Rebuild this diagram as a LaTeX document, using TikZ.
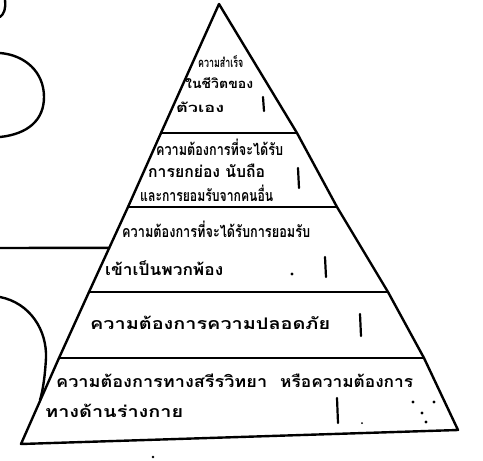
\documentclass[tikz,border=0pt]{standalone}
\usepackage{fontspec}
\usepackage{graphicx}
\usetikzlibrary{calc}
\newfontfamily\thaifont[Script=Thai]{Loma}
% squeeze a handwritten line to the width it takes in the sketch
\newcommand{\hand}[2]{\resizebox{#1pt}{\height}{#2}}

\begin{document}
\begin{tikzpicture}[x=1pt, y=-1pt,
    edge/.style={line width=2.4pt, line cap=round, line join=round},
    tick/.style={line width=2.2pt, line cap=round},
    lvl/.style={anchor=base west, inner sep=0pt,
        font=\thaifont\bfseries\fontsize{16}{16}\selectfont},
    lvltop/.style={lvl, font=\thaifont\bfseries\fontsize{13}{13}\selectfont}]
    \useasboundingbox (0,0) rectangle (483,461);
    \fill[white] (0,0) rectangle (483,461);

    % Pyramid corners and level ends
    \coordinate (apex) at (219,4);
    \coordinate (l1) at (161,133);
    \coordinate (l2) at (128,207);
    \coordinate (l3) at (89,292);
    \coordinate (l4) at (59,358);
    \coordinate (bl) at (21,444);
    \coordinate (r1) at (297,133);
    \coordinate (r2) at (337,207);
    \coordinate (r3) at (388,292);
    \coordinate (r4) at (424,358);
    \coordinate (br) at (458,430);

    % Outline
    \draw[edge] (bl) -- (l4) -- (l3) -- (l2) -- (l1) -- (apex)
        -- (r1) -- (r2) -- (r3) -- (r4) -- (br) -- cycle;

    % Level lines
    \foreach \i in {1,...,4}
        \draw[edge] (l\i) -- (r\i);

    % Sketch on the left
    \coordinate (lm) at ($(l2)!0.48!(l3)$);
    \draw[edge] (5,0) .. controls (6,9) and (4,14) .. (0,17);
    \draw[edge] (0,53) .. controls (25,55) and (44,72) .. (44,97)
        .. controls (44,120) and (28,134) .. (0,137);
    \draw[edge] (0,248) -- (lm);
    \draw[edge] (0,297) .. controls (30,303) and (47,330) .. (46,358)
        .. controls (45,376) and (43,390) .. (40,400);

    % Top level
    \node[lvltop] (top1) at (198,67) {\hand{45}{ความสำเร็จ}};
    \node[lvltop] (top2) at (185,88) {\hand{68}{ในชีวิตของ}};
    \node[lvltop] (top3) at (176,112) {\hand{48}{ตัวเอง}};
    \draw[tick] (263,97) -- (264,111);

    % Esteem
    \node[lvl] (est1) at (156,155) {\hand{127}{ความต้องการที่จะได้รับ}};
    \node[lvl] (est2) at (148,177) {\hand{117}{การยกย่อง นับถือ}};
    \node[lvl] (est3) at (140,201) {\hand{133}{และการยอมรับจากคนอื่น}};
    \draw[tick] (298,168) -- (299,188);

    % Belonging
    \node[lvl] (bel1) at (122,237) {\hand{188}{ความต้องการที่จะได้รับการยอมรับ}};
    \node[lvl] (bel2) at (105,275) {\hand{118}{เข้าเป็นพวกพ้อง}};
    \fill (292,274) circle (1.6pt);
    \draw[tick] (325,257) -- (326,277);

    % Safety
    \node[lvl] (saf) at (90,329) {\hand{240}{ความต้องการความปลอดภัย}};
    \draw[tick] (360,314) -- (361,336);

    % Physiological
    \node[lvl] (phy1) at (56,387) {\hand{211}{ความต้องการทางสรีรวิทยา}};
    \node[lvl] (phy2) at (280,387) {\hand{133}{หรือความต้องการ}};
    \node[lvl] (phy3) at (45,417) {\hand{138}{ทางด้านร่างกาย}};
    \draw[tick] (337,398) -- (338,423);
    \fill (413,402) circle (1.6pt);
    \fill (434,402) circle (1.6pt);
    \fill (422,413) circle (1.6pt);
    \fill (426,422) circle (1.6pt);
    \fill (362,423) circle (1pt);
    \fill (153,457) circle (1.4pt);
\end{tikzpicture}
\end{document}
